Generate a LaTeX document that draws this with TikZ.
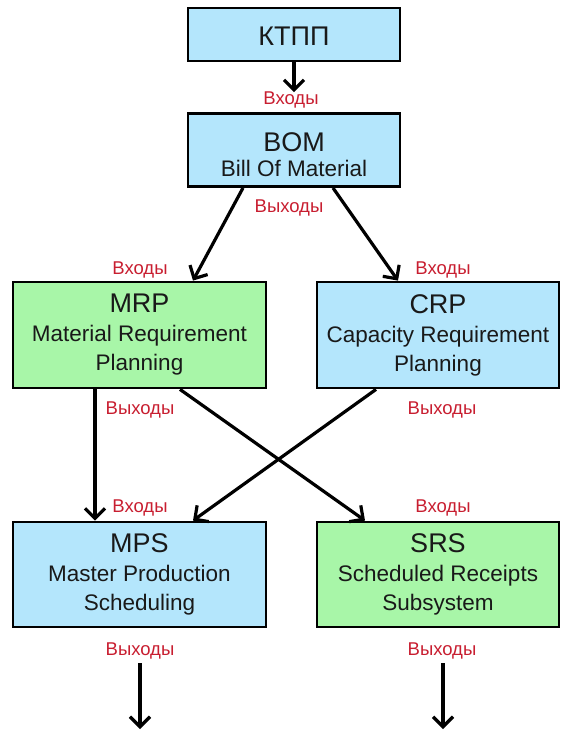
\documentclass[tikz,border=0pt]{standalone}
\usepackage{fontspec}
\setmainfont{Liberation Sans}
\usetikzlibrary{arrows.meta,calc}
\definecolor{boxblue}{RGB}{180,230,252}
\definecolor{boxgreen}{RGB}{168,246,168}
\definecolor{lblred}{RGB}{200,30,48}
\definecolor{txt}{RGB}{25,25,25}
\tikzset{
  blk/.style={draw=black, line width=2.8pt, text=txt, align=center, inner sep=0pt,
    font=\fontsize{22.5}{29}\selectfont},
  bluebox/.style={blk, fill=boxblue},
  greenbox/.style={blk, fill=boxgreen},
  lbl/.style={text=lblred, font=\fontsize{18.5}{20}\selectfont, inner sep=0pt},
  arr/.style={line width=3.2pt, -{Straight Barb[length=10pt,width=20pt,line width=3.2pt]}},
}
\newcommand{\ttl}[1]{{\fontsize{27}{29}\selectfont #1}}
\begin{document}
\begin{tikzpicture}[x=1pt,y=-1pt]
\useasboundingbox (0,0) rectangle (562,731);
% boxes
\node[bluebox, minimum width=212pt, minimum height=53pt] (kt) at (294,34.5) {\rule{0pt}{21pt}\ttl{КТПП}};
\node[bluebox, minimum width=212pt, minimum height=73pt] (bom) at (294,150) {\rule{0pt}{29pt}\ttl{BOM}\\[-4pt]Bill Of Material};
\node[greenbox, minimum width=253pt, minimum height=106pt] (mrp) at (139.5,335) {\ttl{MRP}\\Material Requirement\\Planning};
\node[bluebox, minimum width=242pt, minimum height=106pt] (crp) at (438,335) {\ttl{CRP}\\Capacity Requirement\\Planning};
\node[bluebox, minimum width=253pt, minimum height=105pt] (mps) at (139.5,574.5) {\ttl{MPS}\\Master Production\\Scheduling};
\node[greenbox, minimum width=242pt, minimum height=105pt] (srs) at (438,574.5) {\ttl{SRS}\\Scheduled Receipts\\Subsystem};
% labels
\node[lbl] (in0) at (291,100) {Входы};
\node[lbl] (out0) at (289,208) {Выходы};
\node[lbl] (in1) at (140,270) {Входы};
\node[lbl] (in2) at (443,270) {Входы};
\node[lbl] (out1) at (140,410) {Выходы};
\node[lbl] (out2) at (442,410) {Выходы};
\node[lbl] (in3) at (140,508) {Входы};
\node[lbl] (in4) at (443,508) {Входы};
\node[lbl] (out3) at (140,651) {Выходы};
\node[lbl] (out4) at (442,651) {Выходы};
% free ends
\coordinate (e1) at (140,729);
\coordinate (e2) at (443,729);
% connectors
\draw[arr, shorten >=20pt] (kt.south) -- (bom.north);
\draw[arr] ([xshift=-51pt]bom.south) -- ([xshift=53.5pt]mrp.north);
\draw[arr] ([xshift=39pt]bom.south) -- ([xshift=-40pt]crp.north);
\draw[arr] ([xshift=-44.5pt]mrp.south) -- ([xshift=-44.5pt]mps.north);
\draw[arr] ([xshift=40.5pt]mrp.south) -- ([xshift=-73pt]srs.north);
\draw[arr] ([xshift=-62pt]crp.south) -- ([xshift=53.5pt]mps.north);
\draw[arr] ([yshift=-35pt]mps.south -| e1) -- (e1);
\draw[arr] ([yshift=-35pt]srs.south -| e2) -- (e2);
\end{tikzpicture}
\end{document}
